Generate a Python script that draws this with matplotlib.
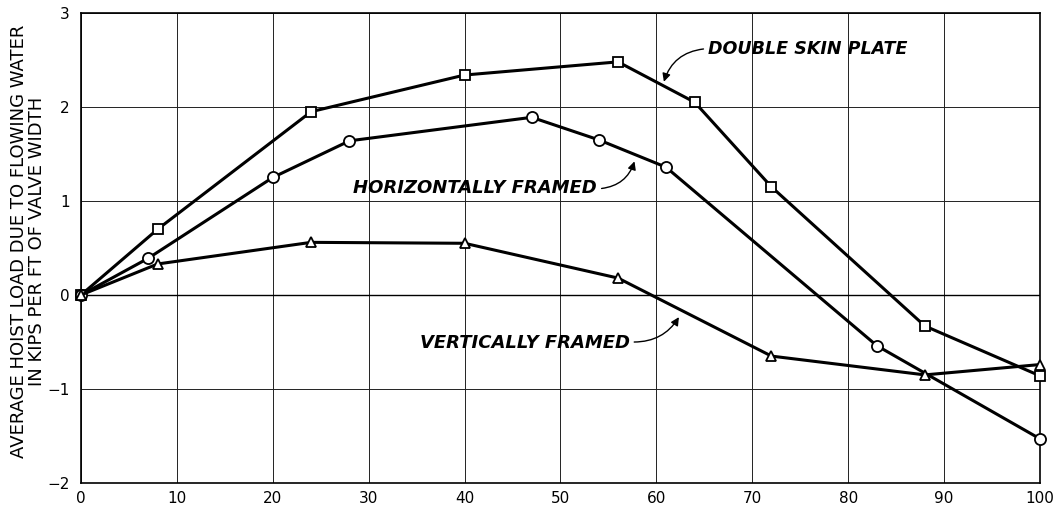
import matplotlib.pyplot as plt

# hoist load vs. percent of valve opening
dsp_x = [0, 8, 24, 40, 56, 64, 72, 88, 100]
dsp_y = [0, 0.70, 1.95, 2.34, 2.48, 2.05, 1.15, -0.33, -0.86]

hor_x = [0, 7, 20, 28, 47, 54, 61, 83, 100]
hor_y = [0, 0.39, 1.25, 1.64, 1.89, 1.65, 1.36, -0.54, -1.53]

ver_x = [0, 8, 24, 40, 56, 72, 88, 100]
ver_y = [0, 0.33, 0.56, 0.55, 0.18, -0.65, -0.85, -0.74]

x_ticks = [0, 10, 20, 30, 40, 50, 60, 70, 80, 90, 100]
y_ticks = [-2, -1, 0, 1, 2, 3]

fig = plt.figure(figsize=(10.6, 5.11), dpi=100)
ax = fig.add_axes([0.0764, 0.0548, 0.9047, 0.9198])

line_kw = dict(color="black", lw=2.2, markerfacecolor="white",
               markeredgecolor="black", markeredgewidth=1.3, zorder=3,
               clip_on=False)
ax.plot(dsp_x, dsp_y, marker="s", markersize=7, **line_kw)
ax.plot(hor_x, hor_y, marker="o", markersize=8, **line_kw)
ax.plot(ver_x, ver_y, marker="^", markersize=7.5, **line_kw)

ax.set_xlim(0, 100)
ax.set_ylim(-2, 3)
ax.set_xticks(x_ticks)
ax.set_yticks(y_ticks)
ax.grid(True, color="#222222", lw=0.7)
ax.axhline(0, color="black", lw=1.0)
for s in ax.spines.values():
    s.set_linewidth(1.2)
ax.tick_params(axis="x", length=0, pad=6, labelsize=11)
ax.tick_params(axis="y", length=0, pad=8, labelsize=11)

fig.text(0.0265, 0.528,
         "AVERAGE HOIST LOAD DUE TO FLOWING WATER\nIN KIPS PER FT OF VALVE WIDTH",
         rotation=90, ha="center", va="center", multialignment="center",
         fontsize=13, linespacing=1.05)

txt_kw = dict(style="italic", fontweight="bold", va="center")
arrow_kw = dict(arrowstyle="-|>", color="black", lw=1.0, mutation_scale=12)

ax.text(65.4, 2.62, "DOUBLE SKIN PLATE", ha="left", fontsize=12.6, **txt_kw)
ax.annotate("", xy=(60.7, 2.24), xytext=(65.2, 2.62),
            arrowprops=dict(connectionstyle="arc3,rad=0.35", **arrow_kw))

ax.text(53.8, 1.14, "HORIZONTALLY FRAMED", ha="right", fontsize=13, **txt_kw)
ax.annotate("", xy=(57.8, 1.45), xytext=(54.0, 1.13),
            arrowprops=dict(connectionstyle="arc3,rad=0.35", **arrow_kw))

ax.text(57.2, -0.51, "VERTICALLY FRAMED", ha="right", fontsize=13, **txt_kw)
ax.annotate("", xy=(62.5, -0.21), xytext=(57.4, -0.50),
            arrowprops=dict(connectionstyle="arc3,rad=0.3", **arrow_kw))

fig.savefig("out.png", dpi=100)
